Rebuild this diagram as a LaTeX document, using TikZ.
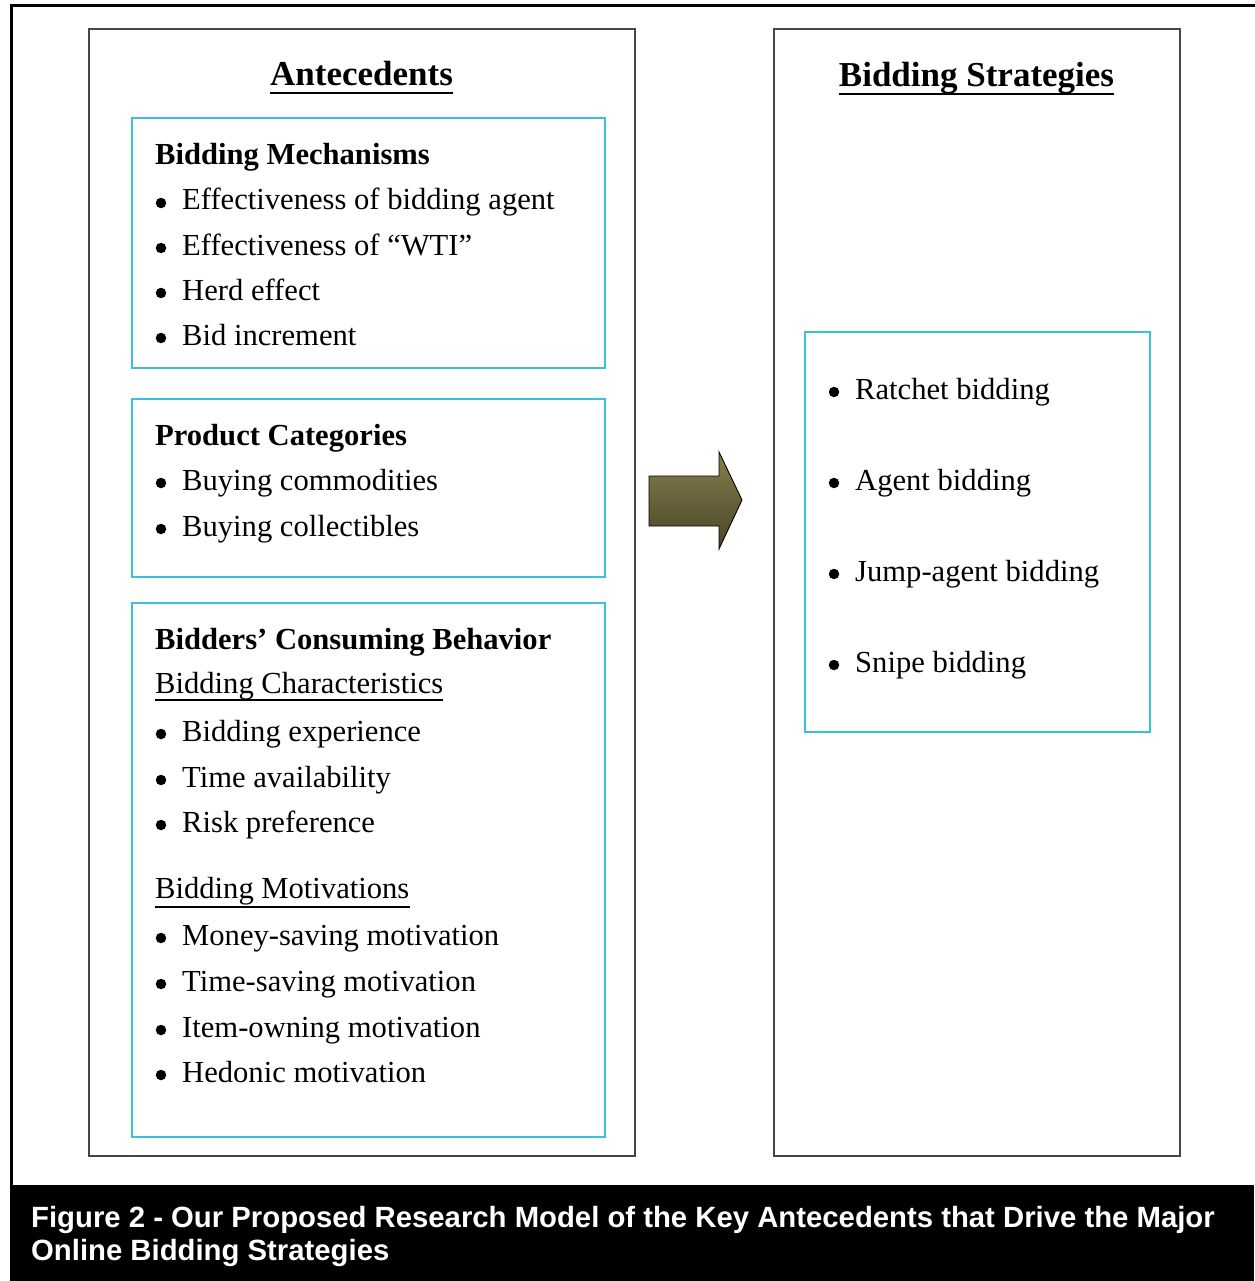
\documentclass[tikz,border=0pt]{standalone}
\usepackage{fontspec}
\setmainfont{Liberation Serif}
\newfontfamily\capfont{Liberation Sans}
\definecolor{cyanline}{RGB}{60,192,218}
\definecolor{greyline}{RGB}{70,70,70}
\definecolor{olivetop}{RGB}{134,128,78}
\definecolor{olivebot}{RGB}{72,68,38}
\newcommand\bitem[4]{%
  \node[bul] (#1b) at (#2-21,#3-7) {};
  \node[item] (#1) at (#2,#3) {#4};}
\begin{document}
\begin{tikzpicture}[x=1pt,y=-1pt,
  outerbox/.style={draw=greyline, line width=1.8pt},
  cbox/.style={draw=cyanline, line width=1.8pt},
  item/.style={anchor=base west, inner sep=0pt, font=\fontsize{30.6}{36}\selectfont},
  headtxt/.style={anchor=base west, inner sep=0pt, font=\fontsize{30.6}{36}\selectfont\bfseries},
  titletxt/.style={anchor=base, inner sep=0pt, font=\fontsize{35}{42}\selectfont\bfseries},
  bul/.style={circle, fill=black, inner sep=0pt, minimum size=10.5pt},
  uline/.style={line width=1.4pt},
  captxt/.style={anchor=base west, inner sep=0pt, text=white, font=\capfont\bfseries\fontsize{29.3}{34}\selectfont}]
\useasboundingbox (0,0) rectangle (1254,1281);
\fill[white] (0,0) rectangle (1254,1281);
% outer frame and caption bar
\draw[line width=3pt] (1260,6) -- (11.5,6) -- (11.5,1186);
\fill[black] (10,1185) rectangle (1254,1281);
\node[captxt] (cap1) at (31,1227) {Figure 2 - Our Proposed Research Model of the Key Antecedents that Drive the Major};
\node[captxt] (cap2) at (31,1260) {Online Bidding Strategies};
% column boxes
\draw[outerbox] (89,29) rectangle (635,1156);
\draw[outerbox] (774,29) rectangle (1180,1156);
% titles
\node[titletxt] (tA) at (361.5,86) {Antecedents};
\draw[uline] ([yshift=-7pt]tA.base west) -- ([yshift=-7pt]tA.base east);
\node[titletxt] (tB) at (976.5,87) {Bidding Strategies};
\draw[uline] ([yshift=-7pt]tB.base west) -- ([yshift=-7pt]tB.base east);
% box 1
\draw[cbox] (132,118) rectangle (605,368);
\node[headtxt] (h1) at (155,165) {Bidding Mechanisms};
\bitem{a1}{182}{210}{Effectiveness of bidding agent}
\bitem{a2}{182}{255}{Effectiveness of “WTI”}
\bitem{a3}{182}{300}{Herd effect}
\bitem{a4}{182}{345}{Bid increment}
% box 2
\draw[cbox] (132,399) rectangle (605,577);
\node[headtxt] (h2) at (155,445) {Product Categories};
\bitem{b1}{182}{490}{Buying commodities}
\bitem{b2}{182}{536}{Buying collectibles}
% box 3
\draw[cbox] (132,603) rectangle (605,1137);
\node[headtxt] (h3) at (155,649) {Bidders’ Consuming Behavior};
\node[item] (s1) at (155,693) {Bidding Characteristics};
\draw[uline] ([yshift=-7pt]s1.base west) -- ([yshift=-7pt]s1.base east);
\bitem{c1}{182}{741}{Bidding experience}
\bitem{c2}{182}{787}{Time availability}
\bitem{c3}{182}{832}{Risk preference}
\node[item] (s2) at (155,898) {Bidding Motivations};
\draw[uline] ([yshift=-9pt]s2.base west) -- ([yshift=-9pt]s2.base east);
\bitem{d1}{182}{945}{Money-saving motivation}
\bitem{d2}{182}{991}{Time-saving motivation}
\bitem{d3}{182}{1037}{Item-owning motivation}
\bitem{d4}{182}{1082}{Hedonic motivation}
% right box
\draw[cbox] (805,332) rectangle (1150,732);
\bitem{r1}{855}{399}{Ratchet bidding}
\bitem{r2}{855}{490}{Agent bidding}
\bitem{r3}{855}{581}{Jump-agent bidding}
\bitem{r4}{855}{672}{Snipe bidding}
% arrow
\draw[line width=0.9pt, top color=olivetop, bottom color=olivebot]
  (649,476) -- (719,476) -- (719,452) -- (742,500) -- (719,549) -- (719,526) -- (649,526) -- cycle;
\end{tikzpicture}
\end{document}
